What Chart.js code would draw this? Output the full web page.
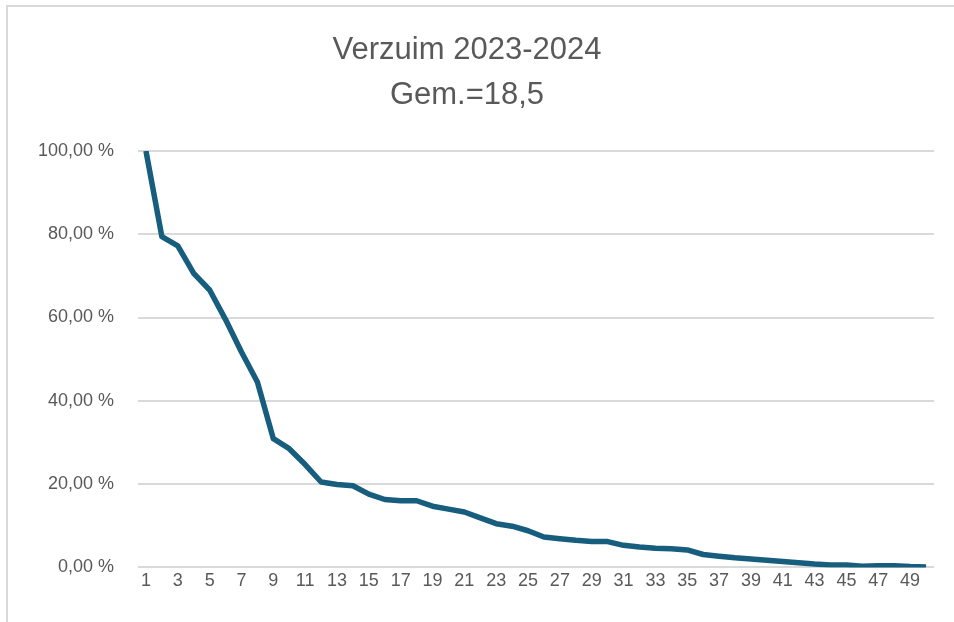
<!DOCTYPE html>
<html>
<head>
<meta charset="utf-8">
<script src="https://cdn.jsdelivr.net/npm/chart.js@4"></script>
<style>
  html, body { margin: 0; padding: 0; background: #fff; }
  #wrap { position: relative; width: 954px; height: 622px; overflow: hidden; }
  #frame { position: absolute; left: 6px; top: 5px; width: 960px; height: 640px; border: 2px solid #d9d9d9; box-sizing: border-box; }
  canvas { position: absolute; left: 0; top: 0; }
</style>
</head>
<body>
<div id="wrap">
  <div id="frame"></div>
  <canvas id="chart" width="954" height="622"></canvas>
</div>
<script>
const titleLines = ["Verzuim 2023-2024", "Gem.=18,5"]
const labels = Array.from({ length: 50 }, (_, i) => String(i + 1))
const verzuim = [
  100, 79.4, 77.2, 70.6, 66.6, 59.5, 51.7, 44.5, 30.9, 28.5,
  24.7, 20.5, 19.9, 19.6, 17.6, 16.3, 16.0, 16.0, 14.7, 14.0,
  13.3, 11.9, 10.5, 9.9, 8.8, 7.3, 6.9, 6.5, 6.2, 6.2,
  5.3, 4.9, 4.6, 4.5, 4.2, 3.1, 2.7, 2.3, 2.0, 1.7,
  1.4, 1.1, 0.8, 0.6, 0.6, 0.3, 0.4, 0.4, 0.2, 0.1
]

const textColor = "#595959"
const fontFamily = "'Liberation Sans', Arial, sans-serif"

const ctx = document.getElementById("chart").getContext("2d")
new Chart(ctx, {
  type: 'line',
  data: {
    labels: labels,
    datasets: [{
      data: verzuim,
      borderColor: "#175d7e",
      borderWidth: 5.5,
      borderJoinStyle: 'round',
      borderCapStyle: 'butt',
      pointRadius: 0,
      tension: 0,
      fill: false
    }]
  },
  options: {
    responsive: false,
    animation: false,
    layout: { padding: { left: 0, right: 20, top: 28, bottom: 27 } },
    plugins: {
      legend: { display: false },
      tooltip: { enabled: false },
      title: {
        display: true,
        text: titleLines,
        color: textColor,
        font: { family: fontFamily, size: 31, weight: 'normal', lineHeight: 1.45 },
        padding: { top: 0, bottom: 33 }
      }
    },
    scales: {
      x: {
        offset: true,
        grid: { display: false, drawTicks: false },
        border: { display: false },
        ticks: {
          autoSkip: false,
          maxRotation: 0,
          color: textColor,
          font: { family: fontFamily, size: 18 },
          padding: 3,
          callback: function (v, i) { return i % 2 === 0 ? this.getLabelForValue(v) : '' }
        }
      },
      y: {
        min: 0,
        max: 100,
        afterFit: (s) => { s.width = 138 },
        border: { display: false },
        grid: { color: "#d9d9d9", lineWidth: 2, drawTicks: false },
        ticks: {
          stepSize: 20,
          padding: 24,
          color: textColor,
          font: { family: fontFamily, size: 18 },
          callback: (v) => v.toFixed(2).replace('.', ',') + ' %'
        }
      }
    }
  }
})
</script>
</body>
</html>
